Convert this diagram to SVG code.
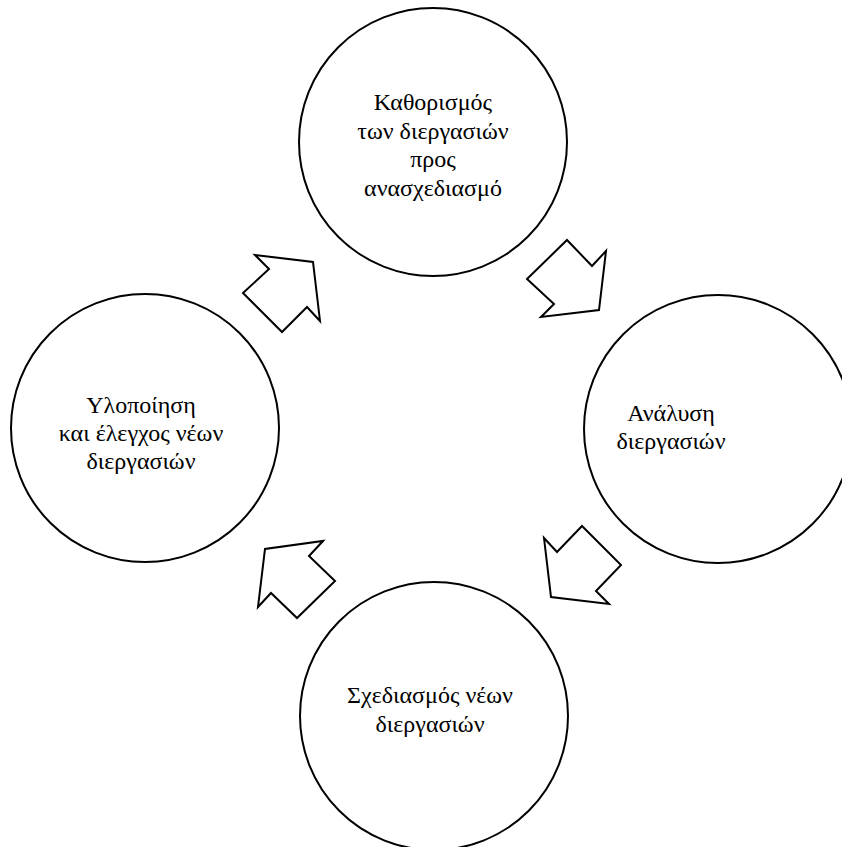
<svg xmlns="http://www.w3.org/2000/svg" width="842" height="847" viewBox="0 0 842 847">
  <style>
    .stage { fill: #ffffff; stroke: #000000; stroke-width: 2; }
    .flow { fill: #ffffff; stroke: #000000; stroke-width: 2; stroke-linejoin: miter; }
    .label { font-family: "Liberation Serif", "DejaVu Serif", serif; font-size: 24px; fill: #000000; text-anchor: middle; }
  </style>
  <rect width="842" height="847" fill="#ffffff"/>

  <!-- block arrows between the stages of the cycle -->
  <g id="connectors">
    <polygon class="flow" points="255,255 313,262 320,321 307,307 282,332 243,293 269,269"/>
    <polygon class="flow" points="567,240 592,266 606,251 599,310 541,317 554,304 527,279"/>
    <polygon class="flow" points="582,526 621,565 596,591 609,604 551,597 544,538 557,552"/>
    <polygon class="flow" points="323,541 309,556 335,581 297,618 271,593 258,607 265,549"/>
  </g>

  <g id="stage-define">
    <circle class="stage" cx="433" cy="142" r="134"/>
    <text class="label" x="433" y="110">Καθορισμός</text>
    <text class="label" x="433" y="139">των διεργασιών</text>
    <text class="label" x="433" y="167">προς</text>
    <text class="label" x="433" y="196">ανασχεδιασμό</text>
  </g>

  <g id="stage-analyse">
    <circle class="stage" cx="718" cy="429" r="134"/>
    <text class="label" x="671" y="421">Ανάλυση</text>
    <text class="label" x="671" y="449">διεργασιών</text>
  </g>

  <g id="stage-design">
    <circle class="stage" cx="434" cy="716" r="134"/>
    <text class="label" x="430" y="703">Σχεδιασμός νέων</text>
    <text class="label" x="430" y="732">διεργασιών</text>
  </g>

  <g id="stage-implement">
    <circle class="stage" cx="145" cy="428" r="134"/>
    <text class="label" x="141" y="413">Υλοποίηση</text>
    <text class="label" x="141" y="441">και έλεγχος νέων</text>
    <text class="label" x="141" y="469">διεργασιών</text>
  </g>
</svg>
